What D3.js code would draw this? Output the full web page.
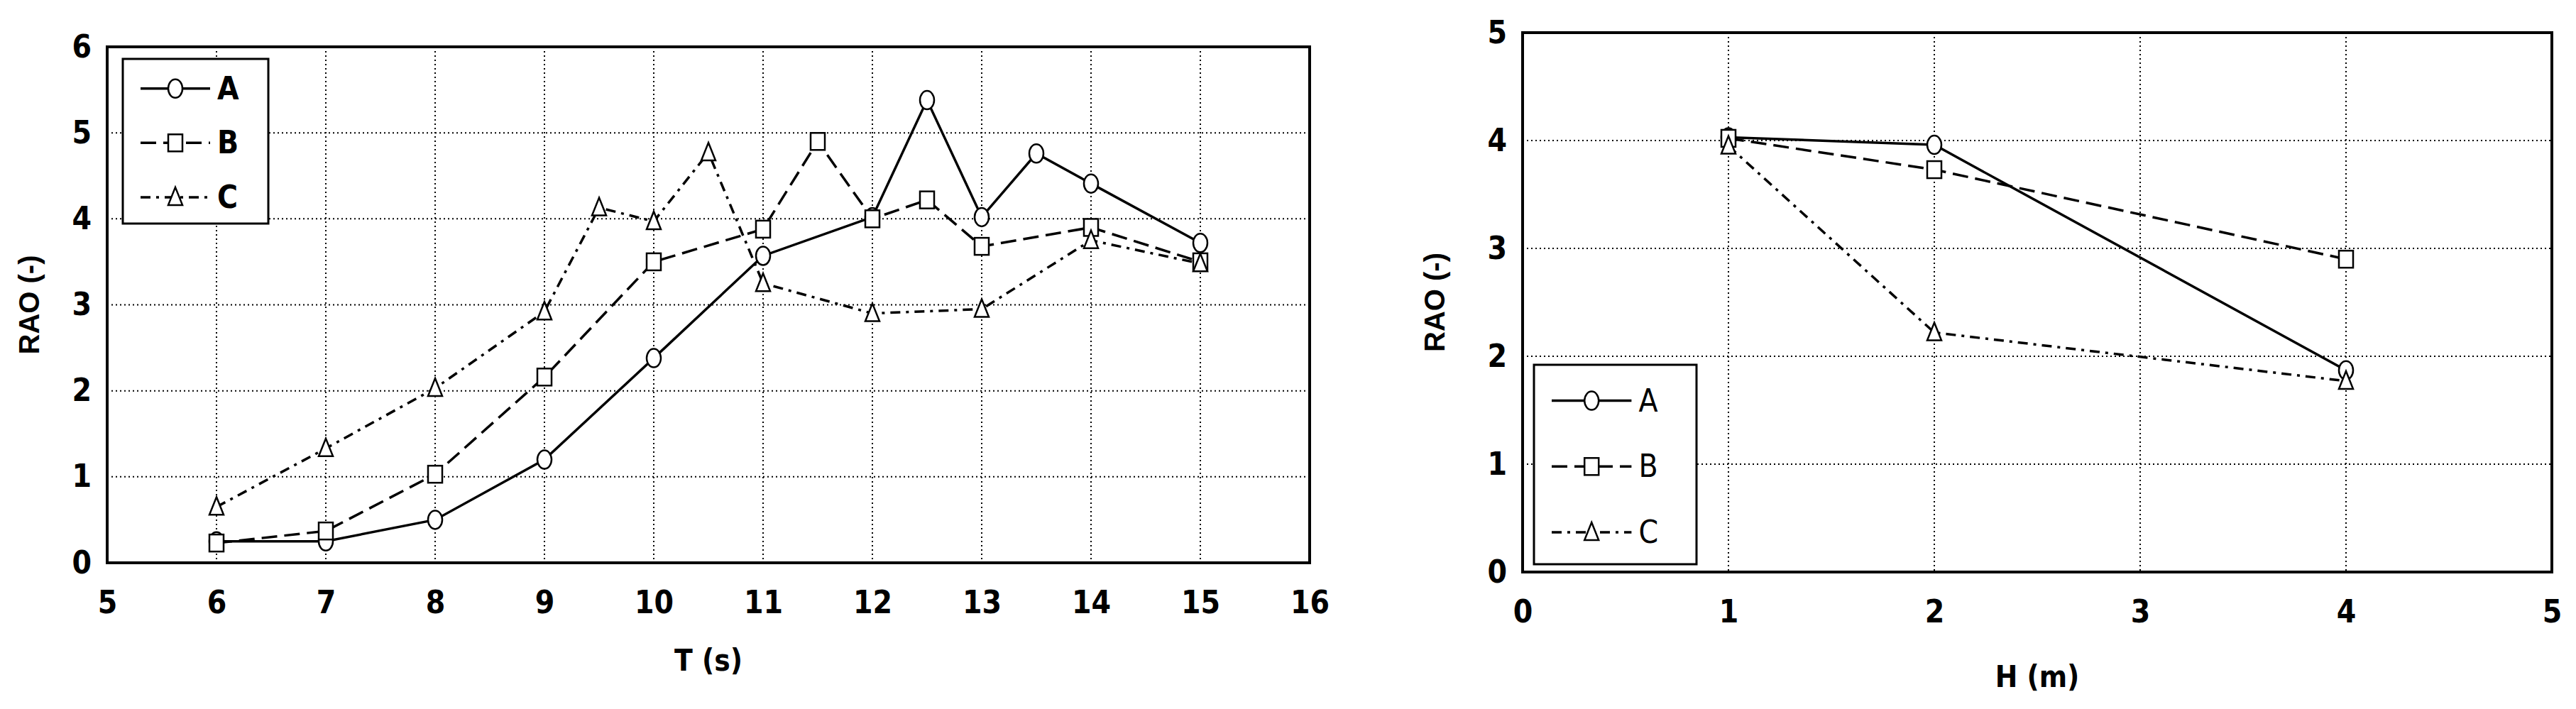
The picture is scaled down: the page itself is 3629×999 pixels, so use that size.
<!DOCTYPE html><html><head><meta charset="utf-8"><script src="https://d3js.org/d3.v7.min.js"></script>
<style>body{margin:0;background:#fff}</style></head><body><svg id="s" width="3629" height="999"></svg>
<script>
const seriesNames=["A","B","C"];
const leftT={A:[6,7,8,9,10,11,12,12.5,13,13.5,14,15],B:[6,7,8,9,10,11,11.5,12,12.5,13,14,15],C:[6,7,8,9,9.5,10,10.5,11,12,13,14,15]};
const leftV={A:[0.25,0.25,0.5,1.2,2.38,3.57,4.02,5.38,4.02,4.76,4.41,3.72],B:[0.23,0.37,1.03,2.16,3.5,3.88,4.9,4.0,4.22,3.68,3.9,3.5],C:[0.65,1.33,2.03,2.92,4.13,3.97,4.77,3.25,2.9,2.95,3.75,3.48]};
const rightH=[1,2,4];
const rightV={A:[4.03,3.96,1.87],B:[4.02,3.73,2.9],C:[3.95,2.22,1.77]};
const leftXTicks=[5,6,7,8,9,10,11,12,13,14,15,16], leftYTicks=[0,1,2,3,4,5,6];
const rightXTicks=[0,1,2,3,4,5], rightYTicks=[0,1,2,3,4,5];
const dash={A:null,B:"22,10",C:"14,8,4,8"};
const svg=d3.select("#s");
const tf="'DejaVu Sans Condensed','DejaVu Sans',sans-serif";
function marker(g,name,x,y){
  if(name==="A")g.append("ellipse").attr("cx",x).attr("cy",y).attr("rx",10).attr("ry",13).attr("fill","#fff").attr("stroke","#000").attr("stroke-width",2.5);
  else if(name==="B")g.append("rect").attr("x",x-10).attr("y",y-12).attr("width",20).attr("height",24).attr("fill","#fff").attr("stroke","#000").attr("stroke-width",2.5);
  else g.append("path").attr("d",`M${x},${y-14}L${x+10},${y+11}L${x-10},${y+11}Z`).attr("fill","#fff").attr("stroke","#000").attr("stroke-width",2.5);
}
function chart(o){
  const x=d3.scaleLinear().domain(o.xd).range([o.l,o.r]);
  const y=d3.scaleLinear().domain(o.yd).range([o.b,o.t]);
  const g=svg.append("g");
  o.xt.slice(1,-1).forEach(v=>g.append("line").attr("x1",x(v)).attr("x2",x(v)).attr("y1",o.t).attr("y2",o.b).attr("stroke","#000").attr("stroke-width",2).attr("stroke-dasharray","2,4"));
  o.yt.slice(1,-1).forEach(v=>g.append("line").attr("y1",y(v)).attr("y2",y(v)).attr("x1",o.l).attr("x2",o.r).attr("stroke","#000").attr("stroke-width",2).attr("stroke-dasharray","2,4"));
  g.append("rect").attr("x",o.l).attr("y",o.t).attr("width",o.r-o.l).attr("height",o.b-o.t).attr("fill","none").attr("stroke","#000").attr("stroke-width",4);
  const xa=g.append("g").attr("transform",`translate(0,${o.b})`).call(d3.axisBottom(x).tickValues(o.xt).tickFormat(d3.format("d")).tickSize(0).tickPadding(40));
  const ya=g.append("g").attr("transform",`translate(${o.l},0)`).call(d3.axisLeft(y).tickValues(o.yt).tickFormat(d3.format("d")).tickSize(0).tickPadding(22));
  [xa,ya].forEach(a=>{a.select(".domain").remove();a.selectAll("text").attr("font-family",tf).attr("font-size",44).attr("font-weight","bold").attr("fill","#000");});
  g.append("text").attr("x",(o.l+o.r)/2).attr("y",o.xty).attr("text-anchor","middle").attr("font-family",tf).attr("font-size",42).attr("font-weight","bold").text(o.xtitle);
  g.append("text").attr("transform",`translate(${o.ytx},${(o.t+o.b)/2}) rotate(-90)`).attr("text-anchor","middle").attr("font-family","'Liberation Sans',Arial,sans-serif").attr("font-size",40).attr("font-weight","bold").text("RAO (-)");
  seriesNames.forEach(n=>{
    const xs=o.xs(n), vs=o.vs[n];
    const pts=xs.map((d,i)=>[x(d),y(vs[i])]);
    g.append("path").attr("d",d3.line()(pts)).attr("fill","none").attr("stroke","#000").attr("stroke-width",3.5).attr("stroke-dasharray",dash[n]);
    pts.forEach(p=>marker(g,n,p[0],p[1]));
  });
  const L=o.leg;
  g.append("rect").attr("x",L.x).attr("y",L.y).attr("width",L.w).attr("height",L.h).attr("fill","#fff").attr("stroke","#000").attr("stroke-width",3);
  seriesNames.forEach((n,i)=>{
    const yy=L.y+L.h*(0.18+0.33*i), x0=L.x+25, x1=L.x+L.w*0.6;
    g.append("line").attr("x1",x0).attr("x2",x1).attr("y1",yy).attr("y2",yy).attr("stroke","#000").attr("stroke-width",3.5).attr("stroke-dasharray",dash[n]);
    marker(g,n,(x0+x1)/2,yy);
    g.append("text").attr("x",x1+10).attr("y",yy+15).attr("font-family",tf).attr("font-size",44).attr("font-weight",L.bold?"bold":"normal").text(n);
  });
}
chart({l:151,r:1845,t:66,b:793,xd:[5,16],yd:[0,6],xt:leftXTicks,yt:leftYTicks,xs:n=>leftT[n],vs:leftV,xtitle:"T (s)",xty:945,ytx:55,leg:{x:173,y:83,w:205,h:232,bold:true}});
chart({l:2145,r:3595,t:46,b:806,xd:[0,5],yd:[0,5],xt:rightXTicks,yt:rightYTicks,xs:n=>rightH,vs:rightV,xtitle:"H (m)",xty:968,ytx:2035,leg:{x:2161,y:514,w:229,h:281,bold:false}});
</script></body></html>
